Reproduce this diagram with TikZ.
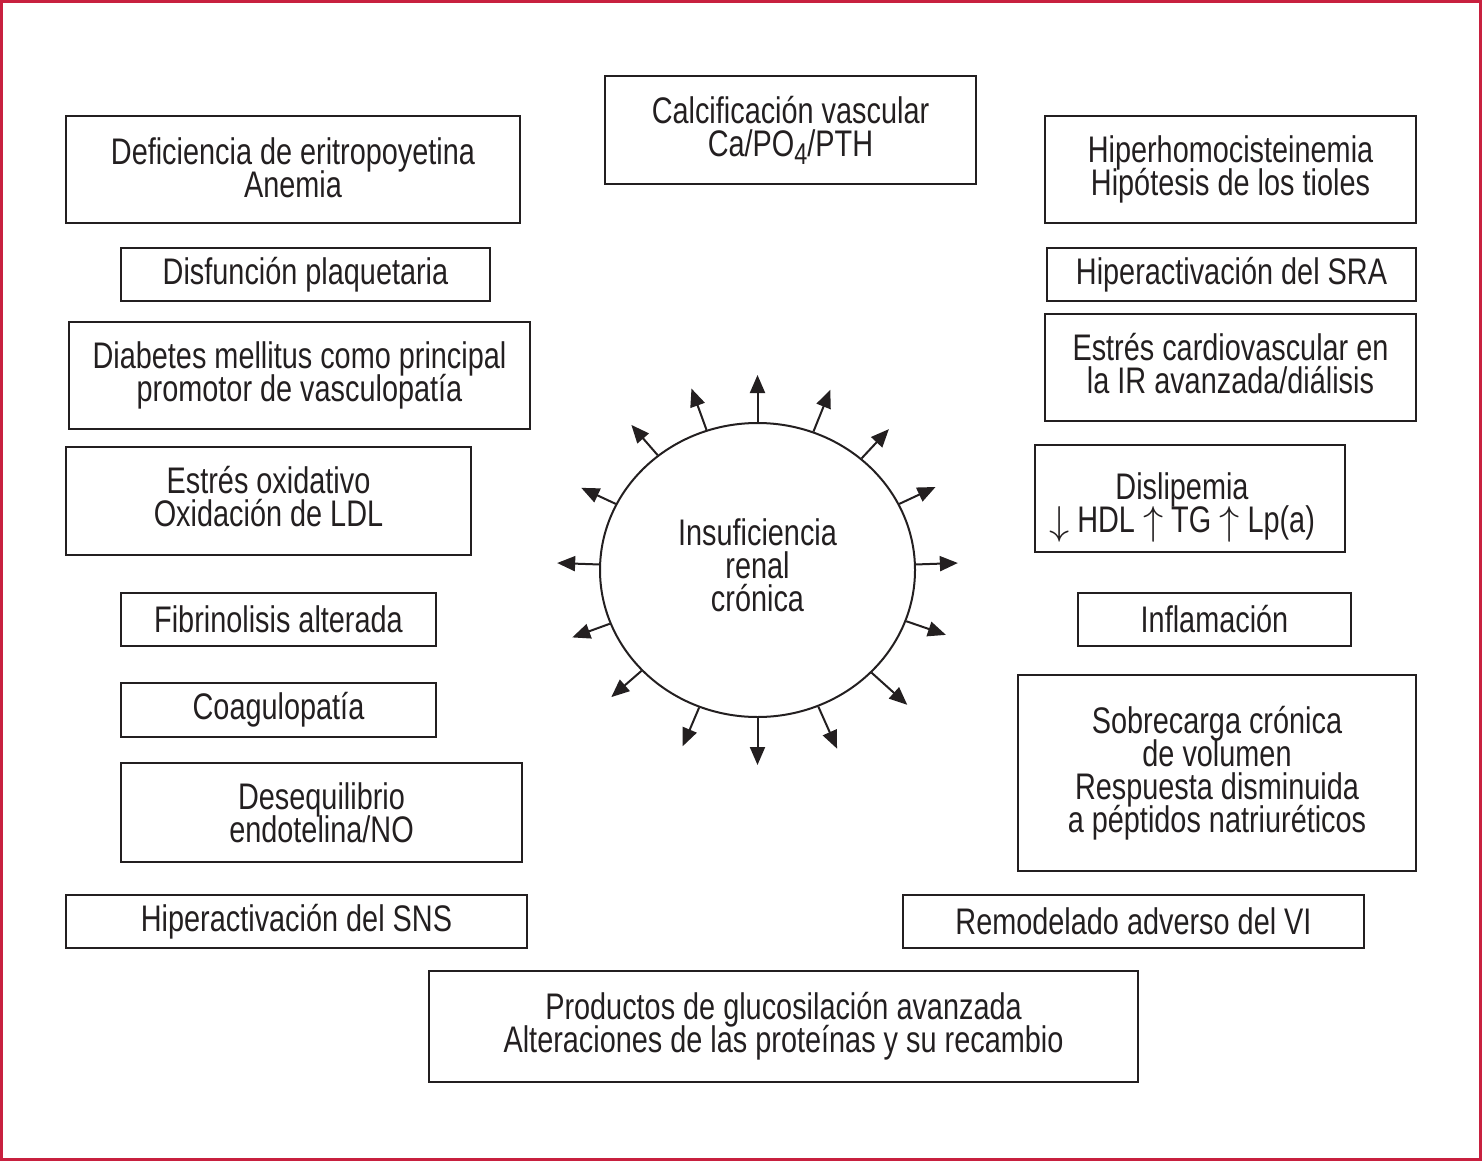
\documentclass[tikz,border=0pt]{standalone}
\usepackage{graphicx}
\usepackage{fontspec}
\setmainfont{Liberation Sans}[FakeStretch=0.78]
\usetikzlibrary{arrows.meta,shapes.geometric,calc}
\definecolor{ink}{HTML}{231F20}
\definecolor{framecol}{HTML}{C8203F}
\newcommand{\boxfont}{\fontsize{37}{33}\selectfont\lineskiplimit=-20pt\relax\lineskip=0pt\relax}
\newcommand{\dstrut}{\rule[-9pt]{0pt}{1pt}}
\newcommand{\dnarr}{\raisebox{-2pt}{\resizebox{!}{28pt}{$\downarrow$}}}
\newcommand{\uparr}{\raisebox{-2pt}{\resizebox{!}{28pt}{$\uparrow$}}}
\begin{document}
\begin{tikzpicture}[x=1pt,y=-1pt,
  box/.style={draw=ink, line width=2pt, inner sep=0pt, align=center, text=ink,
    font=\boxfont},
  arr/.style={draw=ink, line width=2pt, -{Triangle[length=18pt,width=15pt]}}]
\useasboundingbox (0,0) rectangle (1482,1161);
\draw[framecol, line width=3pt] (1.5,1.5) rectangle (1480.5,1159.5);

\node[box, minimum width=454pt, minimum height=107pt] (b1) at (293,169.5) {Deficiencia de eritropoyetina\\Anemia\rule[-4pt]{0pt}{1pt}};
\node[box, minimum width=371pt, minimum height=108pt] (b2) at (790.5,130) {Calcificación vascular\\Ca/PO\raisebox{-8pt}{\fontsize{30}{30}\selectfont 4}/PTH};
\node[box, minimum width=371pt, minimum height=107pt] (b3) at (1230.5,169.5) {Hiperhomocisteinemia\\Hipótesis de los tioles};
\node[box, minimum width=369pt, minimum height=53pt] (b4) at (305.5,274.5) {Disfunción plaquetaria};
\node[box, minimum width=369pt, minimum height=53pt] (b5) at (1231.5,274.5) {Hiperactivación del SRA};
\node[box, minimum width=461pt, minimum height=107pt] (b6) at (299.5,375.5) {Diabetes mellitus como principal\\promotor de vasculopatía};
\node[box, minimum width=371pt, minimum height=107pt] (b7) at (1230.5,367.5) {Estrés cardiovascular en\\la IR avanzada/diálisis\dstrut};
\node[box, minimum width=405pt, minimum height=108pt] (b8) at (268.5,501) {Estrés oxidativo\\Oxidación de LDL\dstrut};
\node[box, minimum width=310pt, minimum height=107pt] (b9) at (1190,498.5) {\rule{0pt}{44pt}Dislipemia\hspace*{16pt}\\\dnarr{} HDL \uparr{} TG \uparr{} Lp(a)\hspace*{16pt}};
\node[box, minimum width=315pt, minimum height=53pt] (b10) at (278.5,619.5) {Fibrinolisis alterada};
\node[box, minimum width=273pt, minimum height=53pt] (b11) at (1214.5,619.5) {Inflamación};
\node[box, minimum width=315pt, minimum height=54pt] (b12) at (278.5,710) {Coagulopatía};
\node[box, minimum width=401pt, minimum height=99pt] (b13) at (321.5,812.5) {Desequilibrio\\endotelina/NO};
\node[box, minimum width=398pt, minimum height=196pt] (b14) at (1217,773) {Sobrecarga crónica\\de volumen\\Respuesta disminuida\\a péptidos natriuréticos};
\node[box, minimum width=461pt, minimum height=53pt] (b15) at (296.5,921.5) {Hiperactivación del SNS};
\node[box, minimum width=461pt, minimum height=53pt] (b16) at (1133.5,921.5) {Remodelado adverso del VI};
\node[box, minimum width=709pt, minimum height=111pt] (b17) at (783.5,1026.5) {Productos de glucosilación avanzada\\Alteraciones de las proteínas y su recambio};

\node[box, ellipse, minimum width=315pt, minimum height=294pt] (irc) at (757.5,570) {Insuficiencia\\renal\\crónica\dstrut};

\foreach \a/\len [count=\i] in {90/47,110/44,131/40,155/38,178/42,200/40,221/40,247/42,270/47,294/46,318/48,341/42,2/42,25.5/40,47/40,68/45}{
  \coordinate (tip\i) at ($(irc.\a)!-\len pt!(irc.center)$);
  \draw[arr] (irc.\a) -- (tip\i);
}
\end{tikzpicture}
\end{document}
